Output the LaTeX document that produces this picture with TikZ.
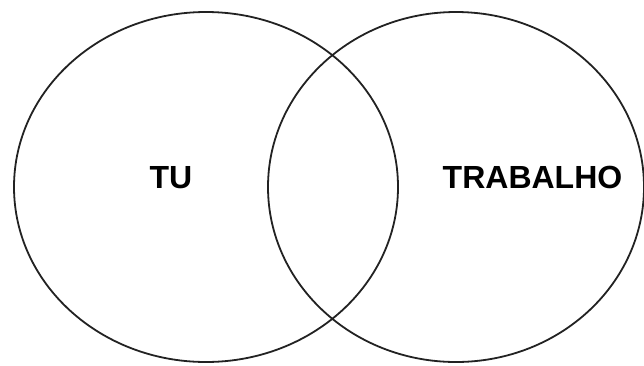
\documentclass[tikz,border=0pt]{standalone}
\usepackage{fontspec}
\setmainfont{Liberation Sans}
\definecolor{setline}{HTML}{222222}
\begin{document}
\begin{tikzpicture}[x=1pt, y=-1pt,
  setborder/.style={draw=setline, line width=1.8pt},
  setlabel/.style={font=\fontsize{32}{36}\selectfont\bfseries, inner sep=0pt}]
  \useasboundingbox (0, 0) rectangle (644, 365);

  \draw[setborder] (206, 187) ellipse[x radius=192, y radius=175];
  \node[setlabel] (tu) at (171, 178) {TU};

  \draw[setborder] (456, 187) ellipse[x radius=188, y radius=175];
  \node[setlabel] (trabalho) at (532.5, 177) {TRABALHO};
\end{tikzpicture}
\end{document}
